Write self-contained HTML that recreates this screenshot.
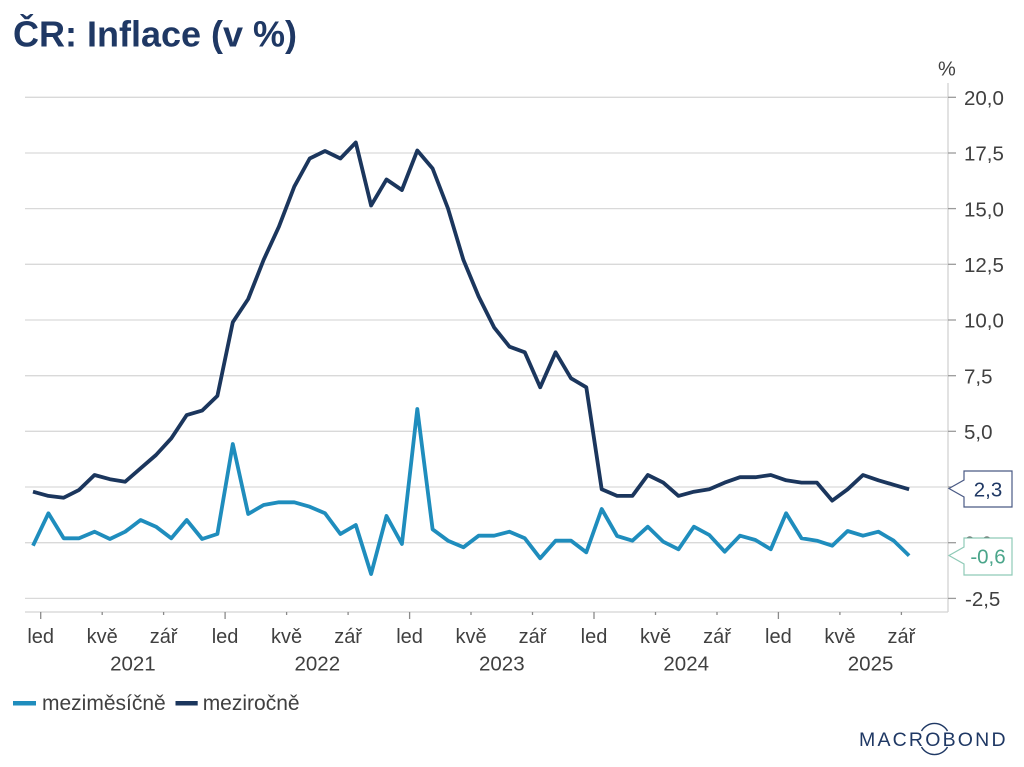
<!DOCTYPE html>
<html>
<head>
<meta charset="utf-8">
<style>
  html,body{margin:0;padding:0;background:#fff;}
  svg{display:block;}
  text{font-family:"Liberation Sans",Arial,sans-serif;}
</style>
</head>
<body>
<svg width="1024" height="767" viewBox="0 0 1024 767" xmlns="http://www.w3.org/2000/svg">
  <rect x="0" y="0" width="1024" height="767" fill="#ffffff"/>

  <!-- Title -->
  <text x="13" y="46.5" font-size="36" font-weight="bold" fill="#1f3864">ČR: Inflace (v %)</text>

  <!-- Gridlines -->
  <g stroke="#d9d9d9" stroke-width="1.3">
    <line x1="25" y1="97.3" x2="948" y2="97.3"/>
    <line x1="25" y1="153.0" x2="948" y2="153.0"/>
    <line x1="25" y1="208.6" x2="948" y2="208.6"/>
    <line x1="25" y1="264.3" x2="948" y2="264.3"/>
    <line x1="25" y1="320.0" x2="948" y2="320.0"/>
    <line x1="25" y1="375.7" x2="948" y2="375.7"/>
    <line x1="25" y1="431.3" x2="948" y2="431.3"/>
    <line x1="25" y1="487.0" x2="948" y2="487.0"/>
    <line x1="25" y1="542.7" x2="948" y2="542.7"/>
    <line x1="25" y1="598.4" x2="948" y2="598.4"/>
  </g>

  <!-- Frame -->
  <g stroke="#d3d3d3" stroke-width="1.3" fill="none">
    <line x1="948" y1="83" x2="948" y2="612"/>
    <line x1="25" y1="612" x2="948" y2="612"/>
  </g>

  <!-- Y ticks -->
  <g stroke="#9a9a9a" stroke-width="1.3">
    <line x1="948" y1="97.3" x2="956" y2="97.3"/>
    <line x1="948" y1="153.0" x2="956" y2="153.0"/>
    <line x1="948" y1="208.6" x2="956" y2="208.6"/>
    <line x1="948" y1="264.3" x2="956" y2="264.3"/>
    <line x1="948" y1="320.0" x2="956" y2="320.0"/>
    <line x1="948" y1="375.7" x2="956" y2="375.7"/>
    <line x1="948" y1="431.3" x2="956" y2="431.3"/>
    <line x1="948" y1="487.0" x2="956" y2="487.0"/>
    <line x1="948" y1="542.7" x2="956" y2="542.7"/>
    <line x1="948" y1="598.4" x2="956" y2="598.4"/>
  </g>

  <!-- Y labels -->
  <g font-size="20.5" fill="#404040">
    <text x="938" y="75.5" font-size="20">%</text>
    <text x="964" y="105">20,0</text>
    <text x="964" y="160.7">17,5</text>
    <text x="964" y="216.3">15,0</text>
    <text x="964" y="272">12,5</text>
    <text x="964" y="327.7">10,0</text>
    <text x="964" y="383.4">7,5</text>
    <text x="964" y="439">5,0</text>
    <text x="964" y="494.7">2,5</text>
    <text x="964" y="550.4">0,0</text>
    <text x="965" y="606.1">-2,5</text>
  </g>

  <!-- X ticks -->
  <g stroke="#8a8a8a" stroke-width="1.3">
    <line x1="40.7" y1="612" x2="40.7" y2="619"/>
    <line x1="102.2" y1="612" x2="102.2" y2="615"/>
    <line x1="163.6" y1="612" x2="163.6" y2="615"/>
    <line x1="225.1" y1="612" x2="225.1" y2="619"/>
    <line x1="286.6" y1="612" x2="286.6" y2="615"/>
    <line x1="348.1" y1="612" x2="348.1" y2="615"/>
    <line x1="409.6" y1="612" x2="409.6" y2="619"/>
    <line x1="471.0" y1="612" x2="471.0" y2="615"/>
    <line x1="532.5" y1="612" x2="532.5" y2="615"/>
    <line x1="594.0" y1="612" x2="594.0" y2="619"/>
    <line x1="655.5" y1="612" x2="655.5" y2="615"/>
    <line x1="717.0" y1="612" x2="717.0" y2="615"/>
    <line x1="778.4" y1="612" x2="778.4" y2="619"/>
    <line x1="839.9" y1="612" x2="839.9" y2="615"/>
    <line x1="901.4" y1="612" x2="901.4" y2="615"/>
  </g>

  <!-- X month labels -->
  <g font-size="20" fill="#404040" text-anchor="middle">
    <text x="40.7" y="643">led</text>
    <text x="102.2" y="643">kvě</text>
    <text x="163.6" y="643">zář</text>
    <text x="225.1" y="643">led</text>
    <text x="286.6" y="643">kvě</text>
    <text x="348.1" y="643">zář</text>
    <text x="409.6" y="643">led</text>
    <text x="471.0" y="643">kvě</text>
    <text x="532.5" y="643">zář</text>
    <text x="594.0" y="643">led</text>
    <text x="655.5" y="643">kvě</text>
    <text x="717.0" y="643">zář</text>
    <text x="778.4" y="643">led</text>
    <text x="839.9" y="643">kvě</text>
    <text x="901.4" y="643">zář</text>
  </g>
  <g font-size="20.5" fill="#404040" text-anchor="middle">
    <text x="132.9" y="670.5">2021</text>
    <text x="317.3" y="670.5">2022</text>
    <text x="501.8" y="670.5">2023</text>
    <text x="686.2" y="670.5">2024</text>
    <text x="870.6" y="670.5">2025</text>
  </g>

  <!-- Series: meziročně (dark) -->
  <polyline fill="none" stroke="#1b365d" stroke-width="3.8" stroke-linejoin="round" stroke-linecap="butt"
    points="33.0,491.7 48.4,495.9 63.7,497.7 79.1,489.9 94.5,475.0 109.9,479.2 125.2,481.7 140.6,468.3 156.0,455.0 171.3,438.3 186.7,415.1 202.1,410.6 217.4,395.9 232.8,322.2 248.2,299.0 263.6,259.9 278.9,226.7 294.3,186.6 309.7,158.5 325.0,151.0 340.4,158.5 355.8,142.5 371.1,205.5 386.5,179.5 401.9,190.0 417.3,150.5 432.6,168.5 448.0,208.5 463.4,259.9 478.7,296.6 494.1,327.4 509.5,346.7 524.8,352.3 540.2,387.3 555.6,352.3 571.0,378.3 586.3,387.3 601.7,489.3 617.1,495.9 632.4,495.9 647.8,475.0 663.2,482.6 678.5,495.9 693.9,491.7 709.3,489.3 724.7,482.6 740.0,477.2 755.4,477.2 770.8,475.0 786.1,480.3 801.5,482.6 816.9,482.6 832.2,500.6 847.6,489.3 863.0,475.0 878.4,480.3 893.7,484.8 909.1,489.3"/>

  <!-- Series: meziměsíčně (light) -->
  <polyline fill="none" stroke="#1f8dbd" stroke-width="3.8" stroke-linejoin="round" stroke-linecap="butt"
    points="33.0,545.7 48.4,513.3 63.7,538.3 79.1,538.3 94.5,531.7 109.9,539.0 125.2,531.7 140.6,520.0 156.0,526.7 171.3,538.3 186.7,520.0 202.1,539.0 217.4,534.0 232.8,444.0 248.2,514.0 263.6,505.0 278.9,502.3 294.3,502.3 309.7,506.7 325.0,513.3 340.4,534.0 355.8,525.0 371.1,574.0 386.5,516.0 401.9,544.0 417.3,409.0 432.6,529.3 448.0,540.7 463.4,547.3 478.7,535.7 494.1,535.7 509.5,531.7 524.8,538.3 540.2,558.3 555.6,540.7 571.0,540.7 586.3,552.3 601.7,509.0 617.1,536.0 632.4,540.7 647.8,526.7 663.2,541.7 678.5,549.3 693.9,526.7 709.3,535.0 724.7,551.7 740.0,535.7 755.4,540.0 770.8,549.3 786.1,513.3 801.5,538.3 816.9,540.7 832.2,545.7 847.6,531.0 863.0,535.7 878.4,531.7 893.7,540.7 909.1,555.7"/>

  <!-- Value callouts -->
  <path d="M964,471 H1012 V507 H964 V497 L949,488.5 L964,480 Z" fill="#ffffff" stroke="#4a5a85" stroke-width="1.2"/>
  <text x="988" y="496.5" font-size="20.5" fill="#1f3864" text-anchor="middle">2,3</text>

  <path d="M964,538 H1012 V575 H964 V564 L949,555.5 L964,547 Z" fill="#ffffff" stroke="#8fcab7" stroke-width="1.2"/>
  <text x="988" y="563.5" font-size="20.5" fill="#4aa58a" text-anchor="middle">-0,6</text>

  <!-- Legend -->
  <line x1="13" y1="703.3" x2="36" y2="703.3" stroke="#1f8dbd" stroke-width="4.5"/>
  <text x="42" y="710" font-size="21" fill="#404040">meziměsíčně</text>
  <line x1="175.5" y1="703.3" x2="197.7" y2="703.3" stroke="#1b365d" stroke-width="4.5"/>
  <text x="202.7" y="710" font-size="21" fill="#404040">meziročně</text>

  <!-- Macrobond logo -->
  <text x="859" y="746" font-size="19.5" fill="#1f3864" letter-spacing="2.2">MACROBOND</text>
  <path d="M921.5,731 A15 15 0 0 1 947.5,731" fill="none" stroke="#1f3864" stroke-width="1.4"/>
  <path d="M921.5,747 A15 15 0 0 0 947.5,747" fill="none" stroke="#1f3864" stroke-width="1.4"/>
</svg>
</body>
</html>
